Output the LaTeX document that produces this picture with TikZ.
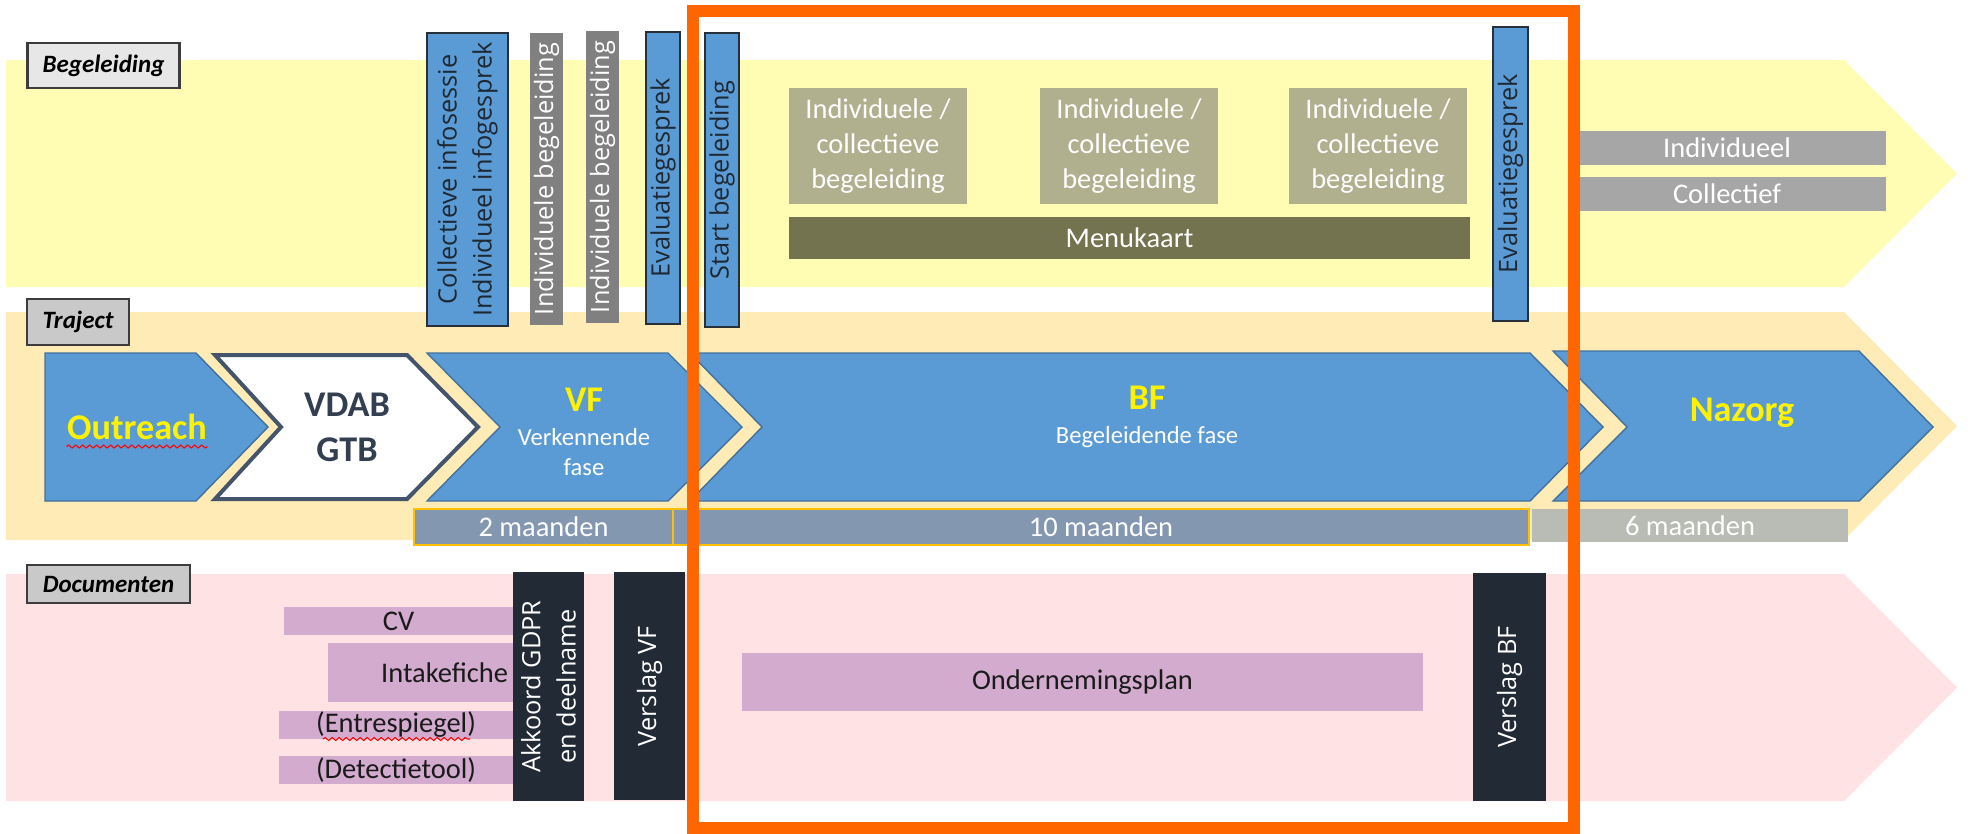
\documentclass[tikz,border=0pt]{standalone}
\usepackage{fontspec}
\setmainfont{Carlito}
\newfontfamily\osans{Open Sans}
\usetikzlibrary{decorations.pathmorphing}

\definecolor{bandYellow}{HTML}{FFFDB3}
\definecolor{bandPeach}{HTML}{FFEBB6}
\definecolor{bandPink}{HTML}{FFE3E4}
\definecolor{blueF}{HTML}{5B9BD5}
\definecolor{blueL}{HTML}{41719C}
\definecolor{boxline}{HTML}{262F3A}
\definecolor{darktxt}{HTML}{1E2833}
\definecolor{slate}{HTML}{44546A}
\definecolor{slateTxt}{HTML}{333F50}
\definecolor{oliveL}{HTML}{B0AF8E}
\definecolor{oliveD}{HTML}{737350}
\definecolor{grayM}{HTML}{A6A6A6}
\definecolor{grayD}{HTML}{808080}
\definecolor{lblLight}{HTML}{E7E7E7}
\definecolor{lblGray}{HTML}{C9C9C9}
\definecolor{lblline}{HTML}{3C3C3C}
\definecolor{monthF}{HTML}{8497B0}
\definecolor{gold}{HTML}{FFC000}
\definecolor{monthL}{HTML}{B9BBB5}
\definecolor{lilac}{HTML}{D3ABCF}
\definecolor{darkbox}{HTML}{222A35}
\definecolor{orng}{HTML}{FF6600}
\definecolor{doctxt}{HTML}{1A1A1A}

\begin{document}
\begin{tikzpicture}[x=0.1mm, y=-0.1mm,
    lbl/.style={rectangle, draw=lblline, line width=0.6pt, inner sep=0pt, font=\fontsize{7.1}{8}\selectfont\bfseries\itshape},
    vbox/.style={rectangle, rotate=90, inner sep=0pt, align=center, font=\osans\fontsize{7.2}{10}\selectfont},
    bluebox/.style={vbox, fill=blueF, draw=boxline, line width=0.5pt, text=darktxt},
    hbox/.style={rectangle, inner sep=0pt, align=center, font=\fontsize{8.1}{10}\selectfont},
    month/.style={hbox, text=white, minimum height=3.6mm},
    doc/.style={hbox, fill=lilac, text=doctxt},
    chev/.style={fill=blueF, draw=blueL, line width=0.4pt},
    phase/.style={text=yellow, font=\fontsize{10.3}{12}\selectfont\bfseries},
    sub/.style={text=white, align=center, font=\fontsize{7}{8.3}\selectfont},
    spell/.style={red, line width=0.3pt, decorate, decoration={snake, amplitude=0.15mm, segment length=0.7mm}}]

\useasboundingbox (0,0) rectangle (1968,833);

\fill[bandYellow] (6,60) -- (1844,60) -- (1957,173.5) -- (1844,287) -- (6,287) -- cycle;
\fill[bandPeach] (6,312) -- (1844,312) -- (1957,426) -- (1844,540) -- (6,540) -- cycle;
\fill[bandPink] (6,574) -- (1844,574) -- (1957,687.5) -- (1844,801) -- (6,801) -- cycle;

\node[lbl, fill=lblLight, minimum width=15.2mm, minimum height=4.5mm] (begL) at (103.5,65.5) {Begeleiding};
\node[lbl, fill=lblGray, minimum width=10.2mm, minimum height=4.6mm] (trajL) at (78,322) {Traject};
\node[lbl, fill=lblGray, minimum width=16.3mm, minimum height=3.8mm] (docL) at (108.5,584) {Documenten};

\node[bluebox, minimum width=29.3mm, minimum height=8.1mm] (infoS) at (467.5,179.5) {Collectieve infosessie\\Individueel infogesprek};
\node[vbox, fill=grayD, text=white, minimum width=29.2mm, minimum height=3.3mm] (indA) at (546.5,179) {Individuele begeleiding};
\node[vbox, fill=grayD, text=white, minimum width=29.2mm, minimum height=3.3mm] (indB) at (602.5,177) {Individuele begeleiding};
\node[bluebox, minimum width=29.2mm, minimum height=3.4mm] (evalA) at (663,178) {Evaluatiegesprek};
\node[bluebox, minimum width=29.4mm, minimum height=3.4mm] (startB) at (722,180) {Start begeleiding};
\node[bluebox, minimum width=29.4mm, minimum height=3.5mm] (evalB) at (1510.5,174) {Evaluatiegesprek};

\node[hbox, fill=oliveL, text=white, minimum width=17.8mm, minimum height=11.6mm] (icA) at (878,146) {Individuele /\\collectieve\\begeleiding};
\node[hbox, fill=oliveL, text=white, minimum width=17.8mm, minimum height=11.6mm] (icB) at (1129,146) {Individuele /\\collectieve\\begeleiding};
\node[hbox, fill=oliveL, text=white, minimum width=17.8mm, minimum height=11.6mm] (icC) at (1378,146) {Individuele /\\collectieve\\begeleiding};
\node[hbox, fill=oliveD, text=white, minimum width=68.1mm, minimum height=4.2mm] (menu) at (1129.5,238) {Menukaart};
\node[hbox, fill=grayM, text=white, minimum width=31.8mm, minimum height=3.4mm] (indiv) at (1727,148) {Individueel};
\node[hbox, fill=grayM, text=white, minimum width=31.8mm, minimum height=3.4mm] (coll) at (1727,194) {Collectief};

\draw[chev] (45,353) -- (196,353) -- (268,427) -- (196,501) -- (45,501) -- cycle;
\draw[fill=white, draw=slate, line width=0.4mm] (215,355) -- (407,355) -- (478,427) -- (407,499) -- (215,499) -- (281,427) -- cycle;
\draw[chev] (427,353) -- (668,353) -- (742,427) -- (668,501) -- (427,501) -- (500,427) -- cycle;
\draw[chev] (690,353) -- (1530,353) -- (1603,427) -- (1530,501) -- (690,501) -- (762,427) -- cycle;
\draw[chev] (1553,351) -- (1859,351) -- (1933,427) -- (1859,501) -- (1553,501) -- (1627,427) -- cycle;

\node[phase, inner sep=0pt] (outreach) at (137,427) {Outreach};
\draw[spell] ([yshift=-0.6mm]outreach.south west) -- ([yshift=-0.6mm]outreach.south east);
\node[text=slateTxt, align=center, font=\fontsize{10.3}{12.8}\selectfont\bfseries] (vdab) at (347,427.5) {VDAB\\GTB};
\node[phase] (vf) at (584,400) {VF};
\node[sub] (vfSub) at (584,452) {Verkennende\\fase};
\node[phase] (bf) at (1147,398) {BF};
\node[sub] (bfSub) at (1147,437) {Begeleidende fase};
\node[phase] (nazorg) at (1742,413) {Nazorg};

\node[month, fill=monthF, draw=gold, line width=0.5pt, minimum width=25.9mm] (mTwo) at (543.5,527) {2 maanden};
\node[month, fill=monthF, draw=gold, line width=0.5pt, minimum width=85.6mm] (mTen) at (1101,527) {10 maanden};
\node[month, fill=monthL, minimum width=31.6mm, minimum height=3.3mm] (mSix) at (1690,525.5) {6 maanden};

\node[doc, minimum width=22.9mm, minimum height=2.8mm] (cv) at (398.5,621) {CV};
\node[doc, minimum width=18.5mm, minimum height=5.9mm, text width=17.5mm, align=right] (intake) at (420.5,672.5) {Intakefiche};
\node[doc, minimum width=23.4mm, minimum height=2.8mm] (entre) at (396,725) {(Entrespiegel)};
\draw[spell] (323,739) -- (470,739);
\node[doc, minimum width=23.4mm, minimum height=2.8mm] (detect) at (396,770) {(Detectietool)};
\node[vbox, fill=darkbox, text=white, minimum width=22.9mm, minimum height=7.1mm] (gdpr) at (548.5,686.5) {Akkoord GDPR\\en deelname};
\node[vbox, fill=darkbox, text=white, minimum width=22.8mm, minimum height=7.1mm] (vslVF) at (649.5,686) {Verslag VF};
\node[doc, minimum width=68.1mm, minimum height=5.8mm] (plan) at (1082.5,682) {Ondernemingsplan};
\node[vbox, fill=darkbox, text=white, minimum width=22.8mm, minimum height=7.3mm] (vslBF) at (1509.5,687) {Verslag BF};

\draw[orng, line width=1.15mm] (693,11) rectangle (1574,828);
\end{tikzpicture}
\end{document}
